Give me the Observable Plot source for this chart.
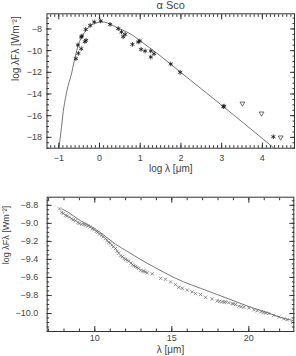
<!DOCTYPE html>
<html><head><meta charset="utf-8">
<script src="https://cdn.jsdelivr.net/npm/d3@7"></script>
<script src="https://cdn.jsdelivr.net/npm/@observablehq/plot@0.6"></script>
<style>
body{margin:0;background:#fff;}
#c svg{display:block;}
</style></head><body><div id="c"></div>
<script>
// ---- Top panel: SED of alpha Sco (log lambda [um], log lambda F_lambda [W m^-2])
const sedLogLam = [-0.58,-0.52,-0.45,-0.53,-0.45,-0.43,-0.36,-0.33,-0.34,-0.23,-0.13,0.03,0.26,0.46,0.54,0.58,0.63,0.81,0.95,0.99,1.02,1.12,1.26,1.34,1.26,1.75,1.98,3.04,3.06,4.27];
const sedLogF   = [-10.74,-10.25,-9.82,-9.48,-8.74,-8.65,-9.17,-9.05,-8.04,-7.67,-7.35,-7.26,-7.58,-7.97,-8.28,-8.71,-8.50,-9.42,-9.20,-9.11,-9.88,-10.03,-10.03,-10.28,-10.59,-11.23,-12.0,-15.17,-15.12,-17.94];
const limLogLam = [3.51, 3.98, 4.45];
const limLogF   = [-14.87, -15.79, -18.0];
const modelLogLam = [-1.0,-0.95,-0.89,-0.80,-0.68,-0.60,-0.52,-0.40,-0.27,-0.11,0.05,0.2,0.42,0.6,0.83,1.0,1.2,1.5,2.0,3.0,4.29];
const modelLogF   = [-19.0,-17.6,-15.6,-13.7,-12.0,-10.6,-9.45,-8.5,-7.87,-7.48,-7.35,-7.45,-7.85,-8.15,-8.62,-9.1,-9.65,-10.5,-12.02,-15.03,-19.0];
const topXTicks = [-1, 0, 1, 2, 3, 4];
const topYTicks = [-8, -10, -12, -14, -16, -18];

// ---- Bottom panel: mid-IR spectrum (lambda [um], log lambda F_lambda)
const specLam = [7.71,7.85,7.95,8.1,8.2,8.35,8.5,8.6,8.75,8.9,9.0,9.15,9.3,9.4,9.55,9.7,9.83,9.95,10.1,10.2,10.3,10.45,10.55,10.7,10.8,10.9,11.0,11.1,11.2,11.34,11.45,11.55,11.67,11.8,11.9,12.0,12.1,12.2,12.35,12.45,12.53,12.65,12.75,12.85,12.97,13.1,13.2,13.29,13.4,
  13.73,14.27,14.59,14.92,15.24,15.45,15.68,16.0,16.32,16.54,16.86,17.19,17.62,17.95,18.1,18.27,18.4,18.5,18.7,18.92,19.0,19.14,19.35,19.5,19.68,20.0,20.32,20.55,20.8,20.97,21.1,21.3,21.62,21.95,22.27,22.49,22.82];
const specF = [-8.84,-8.88,-8.89,-8.91,-8.92,-8.93,-8.95,-8.96,-8.97,-8.99,-9.0,-9.01,-9.01,-9.02,-9.03,-9.04,-9.06,-9.07,-9.09,-9.10,-9.12,-9.13,-9.15,-9.17,-9.19,-9.21,-9.22,-9.24,-9.26,-9.28,-9.31,-9.33,-9.36,-9.37,-9.39,-9.40,-9.41,-9.42,-9.44,-9.46,-9.47,-9.48,-9.49,-9.50,-9.52,-9.53,-9.53,-9.54,-9.55,
  -9.56,-9.61,-9.62,-9.65,-9.68,-9.71,-9.72,-9.74,-9.76,-9.78,-9.79,-9.82,-9.84,-9.86,-9.865,-9.87,-9.875,-9.87,-9.88,-9.89,-9.895,-9.90,-9.92,-9.925,-9.93,-9.94,-9.96,-9.97,-9.98,-9.99,-9.995,-10.0,-10.02,-10.04,-10.06,-10.07,-10.10];
const fitLam = [7.85,7.99,9.07,9.61,10.5,11.34,12.1,12.86,13.8,15.13,15.78,16.86,17.95,19.03,20.11,21.2,22.0,22.92];
const fitF   = [-8.84,-8.85,-8.97,-9.02,-9.12,-9.23,-9.31,-9.39,-9.48,-9.60,-9.65,-9.72,-9.79,-9.86,-9.93,-9.99,-10.04,-10.08];
const botXTicks = [10, 15, 20];
const botYTicks = [-8.8, -9.0, -9.2, -9.4, -9.6, -9.8, -10.0];

const zip = (xs, ys) => xs.map((x, i) => ({x, y: ys[i]}));
const sed = zip(sedLogLam, sedLogF);
const lim = zip(limLogLam, limLogF);
const model = zip(modelLogLam, modelLogF);
const spec = zip(specLam, specF);
const fit = zip(fitLam, fitF);

const minus = "\u2212";
const fmtInt = d => (d < 0 ? minus + (-d) : String(d));
const fmt1 = d => (d < 0 ? minus : "") + Math.abs(d).toFixed(1);
const FONT = "Liberation Sans, Arial, sans-serif";
const INK = "#333";

function frameTicks(xMaj, xMin, yMaj, yMin) {
  const m = [];
  for (const anchor of ["bottom", "top"]) {
    m.push(Plot.axisX(xMaj, {anchor, tickSize: -5, tickFormat: () => "", label: null, stroke: INK}));
    m.push(Plot.axisX(xMin, {anchor, tickSize: -2.5, tickFormat: () => "", label: null, stroke: INK}));
  }
  for (const anchor of ["left", "right"]) {
    m.push(Plot.axisY(yMaj, {anchor, tickSize: -5, tickFormat: () => "", label: null, stroke: INK}));
    m.push(Plot.axisY(yMin, {anchor, tickSize: -2.5, tickFormat: () => "", label: null, stroke: INK}));
  }
  return m;
}

const topXMinor = d3.range(-12, 48).map(i => i / 10);
const topYMinor = d3.range(-38, -13).map(i => i / 2);
const botXMinor = d3.range(7, 23);
const botYMinor = d3.range(-204, -174).map(i => i / 20);

const chartTop = Plot.plot({
  width: 296, height: 180,
  marginLeft: 46.5, marginRight: 2, marginTop: 13.3, marginBottom: 32.3,
  x: {domain: [-1.29, 4.79]},
  y: {domain: [-19, -6.6]},
  style: {fontFamily: FONT, fontSize: "9px", color: "#444", background: "#fff", overflow: "visible"},
  marks: [
    Plot.line(model, {x: "x", y: "y", stroke: "#555", strokeWidth: 0.8, curve: "monotone-x", clip: true}),
    Plot.dot(sed, {x: "x", y: "y", symbol: "asterisk", r: 2.2, stroke: "#111", strokeWidth: 0.8}),
    Plot.dot(lim, {x: "x", y: "y", symbol: "triangle2", rotate: 180, r: 2.3, stroke: "#333", strokeWidth: 0.7}),
    ...frameTicks(topXTicks, topXMinor, topYTicks, topYMinor),
    Plot.axisX(topXTicks, {anchor: "bottom", tickSize: 0, tickPadding: 6, tickFormat: fmtInt, label: null, fill: "#444"}),
    Plot.axisY(topYTicks, {anchor: "left", tickSize: 0, tickPadding: 5, tickFormat: fmtInt, label: null, fill: "#444"}),
    Plot.frame({stroke: INK}),
    Plot.text(["\u03b1 Sco"], {text: d => d, frameAnchor: "top", lineAnchor: "middle", dy: -8, fontSize: 11, fill: "#444"}),
    Plot.text(["log \u03bb [\u03bcm]"], {text: d => d, frameAnchor: "bottom", lineAnchor: "middle", dy: 21, fontSize: 10, fill: "#444"}),
    Plot.text(["log \u03bbF\u03bb [Wm\u207b\u00b2]"], {text: d => d, frameAnchor: "left", lineAnchor: "middle", dx: -31.5, rotate: -90, fontSize: 10, fill: "#444"})
  ]
});

const chartBot = Plot.plot({
  width: 296, height: 176,
  marginLeft: 46.7, marginRight: 2.7, marginTop: 16.7, marginBottom: 25,
  x: {domain: [6.91, 22.92]},
  y: {domain: [-10.2, -8.71]},
  style: {fontFamily: FONT, fontSize: "9px", color: "#444", background: "#fff", overflow: "visible"},
  marks: [
    Plot.line(fit, {x: "x", y: "y", stroke: "#555", strokeWidth: 0.8, curve: "monotone-x", clip: true}),
    Plot.dot(spec, {x: "x", y: "y", symbol: "times", r: 1.6, stroke: "#666", strokeWidth: 0.7}),
    ...frameTicks(botXTicks, botXMinor, botYTicks, botYMinor),
    Plot.axisX(botXTicks, {anchor: "bottom", tickSize: 0, tickPadding: 3.5, tickFormat: fmtInt, label: null, fill: "#444"}),
    Plot.axisY(botYTicks, {anchor: "left", tickSize: 0, tickPadding: 9, tickFormat: fmt1, label: null, fill: "#444"}),
    Plot.frame({stroke: INK}),
    Plot.text(["\u03bb [\u03bcm]"], {text: d => d, frameAnchor: "bottom", lineAnchor: "middle", dy: 18.5, fontSize: 10, fill: "#444"}),
    Plot.text(["log \u03bbF\u03bb [Wm\u207b\u00b2]"], {text: d => d, frameAnchor: "left", lineAnchor: "middle", dx: -41, rotate: -90, fontSize: 9, fill: "#444"})
  ]
});

document.getElementById("c").append(chartTop, chartBot);
</script>
</body></html>
